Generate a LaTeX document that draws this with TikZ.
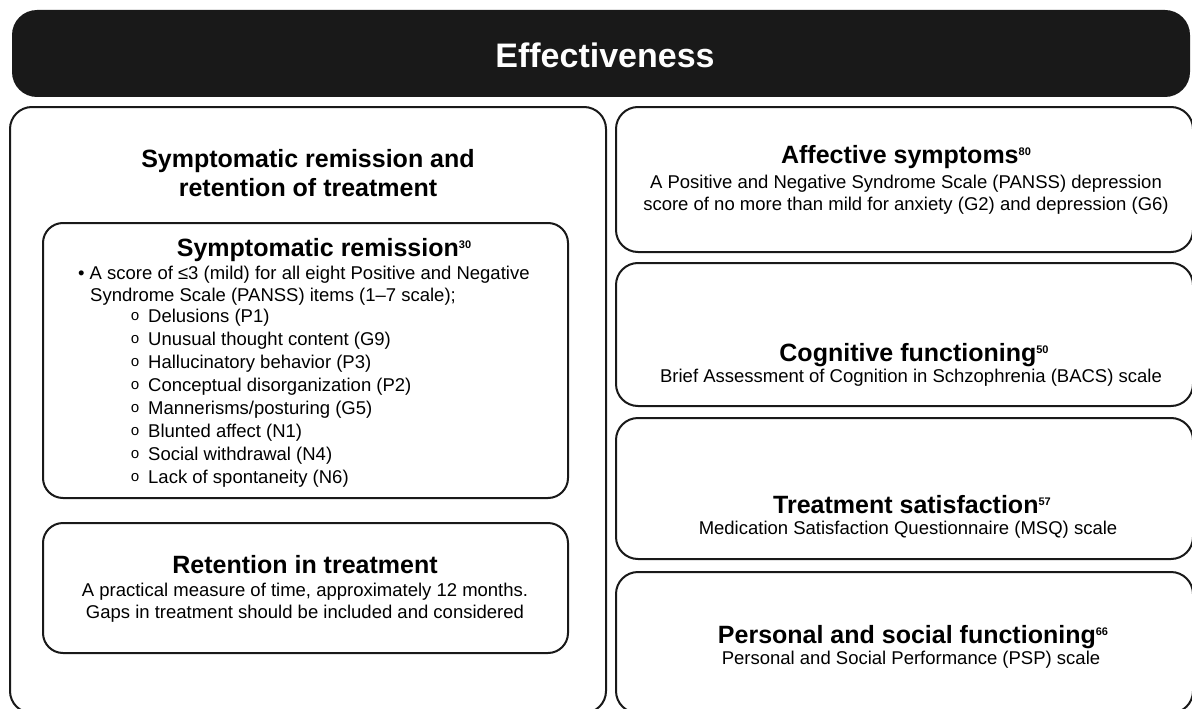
\documentclass[tikz,border=0pt]{standalone}
\usepackage{fontspec}
\setmainfont{Liberation Sans}
\newfontfamily\bulletfont{Liberation Mono}
\usetikzlibrary{positioning}

\newcommand{\refnum}[1]{\raisebox{0.3em}{\fontsize{11}{11}\selectfont #1}}
\newcommand{\subbullet}{\makebox[17.5pt][l]{\raisebox{2pt}{\bulletfont\fontsize{15}{15}\selectfont o}}}

\tikzset{
  panel/.style={draw=black!90, line width=2pt, rounded corners=22pt},
  subpanel/.style={draw=black!90, line width=2pt, rounded corners=20pt},
  headtext/.style={inner sep=0pt, anchor=base, font=\bfseries\fontsize{25}{29}\selectfont},
  bodytext/.style={inner sep=0pt, anchor=base, font=\fontsize{18.5}{23}\selectfont},
  itemtext/.style={inner sep=0pt, anchor=base west, font=\fontsize{18.5}{23}\selectfont},
}

\begin{document}
\begin{tikzpicture}[x=1pt, y=-1pt]
\useasboundingbox (0,0) rectangle (1192,709);
\clip (0,0) rectangle (1192,709);

% banner
\fill[black!90, rounded corners=25pt] (12,10) rectangle (1190,97);
\draw (605,67) node[headtext, text=white, font=\bfseries\fontsize{34}{40}\selectfont] (banner) {Effectiveness};

% left column
\draw[panel] (10,107) rectangle (606,713);
\draw (308,167) node[headtext] (lefthead1) {Symptomatic remission and};
\draw (308,196) node[headtext] (lefthead2) {retention of treatment};

\draw[subpanel] (43,223) rectangle (568,498);
\draw (324,256) node[headtext] (remhead) {Symptomatic remission\refnum{30}};
\draw (78,279) node[itemtext] (remline1) {\textbullet\hspace{5pt}A score of ≤3 (mild) for all eight Positive and Negative};
\draw (90,301) node[itemtext] (remline2) {Syndrome Scale (PANSS) items (1–7 scale);};
\foreach \txt [count=\i] in {Delusions (P1), Unusual thought content (G9),
    Hallucinatory behavior (P3), Conceptual disorganization (P2),
    Mannerisms/posturing (G5), Blunted affect (N1), Social withdrawal (N4),
    Lack of spontaneity (N6)}
  \draw (130.5,{299.5+23*\i}) node[itemtext] (item\i) {\subbullet\txt};

\draw[subpanel] (43,523) rectangle (568,653);
\draw (305,573) node[headtext] (rethead) {Retention in treatment};
\draw (305,596) node[bodytext] (retline1) {A practical measure of time, approximately 12 months.};
\draw (305,618) node[bodytext] (retline2) {Gaps in treatment should be included and considered};

% right column
\draw[panel] (616,107) rectangle (1193,252);
\draw (906,163) node[headtext] (affhead) {Affective symptoms\refnum{80}};
\draw (906,188) node[bodytext] (affline1) {A Positive and Negative Syndrome Scale (PANSS) depression};
\draw (906,210) node[bodytext] (affline2) {score of no more than mild for anxiety (G2) and depression (G6)};

\draw[panel] (616,263) rectangle (1193,406);
\draw (914,361) node[headtext] (coghead) {Cognitive functioning\refnum{50}};
\draw (911,382) node[bodytext] (cogline) {Brief Assessment of Cognition in Schzophrenia (BACS) scale};

\draw[panel] (616,418) rectangle (1193,559);
\draw (912,513) node[headtext] (sathead) {Treatment satisfaction\refnum{57}};
\draw (908,534) node[bodytext] (satline) {Medication Satisfaction Questionnaire (MSQ) scale};

\draw[panel] (616,572) rectangle (1193,713);
\draw (913,643) node[headtext] (pshead) {Personal and social functioning\refnum{66}};
\draw (911,664) node[bodytext] (psline) {Personal and Social Performance (PSP) scale};

\end{tikzpicture}
\end{document}
